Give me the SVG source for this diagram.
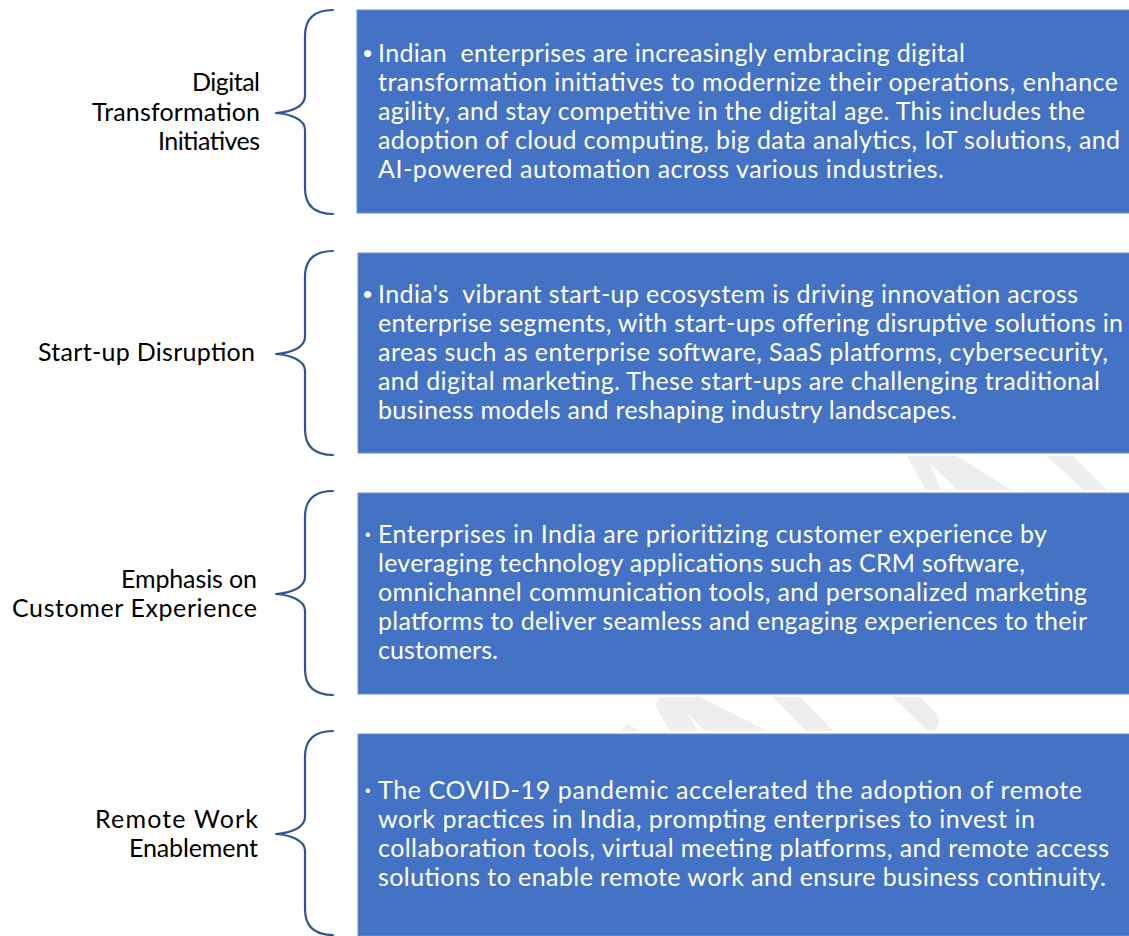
<svg xmlns="http://www.w3.org/2000/svg" xmlns:xlink="http://www.w3.org/1999/xlink" width="1129" height="936" viewBox="0 0 1129 936">
  <style>
    .box { fill: #4472C4; stroke: #6F8FD0; stroke-width: 1; }
    .body { font-family: Lato, "Open Sans", "Liberation Sans", sans-serif; font-size: 25px; fill: #FFFFFF; }
    .bul { font-family: "Liberation Sans", sans-serif; font-size: 26px; fill: #FFFFFF; }
    .bul-s { font-family: "Liberation Sans", sans-serif; font-size: 16px; fill: #FFFFFF; }
    .label { font-family: Lato, "Open Sans", "Liberation Sans", sans-serif; font-size: 25px; fill: #000000; text-anchor: end; }
    .brace { fill: none; stroke: #2F5597; stroke-width: 2.2; stroke-linecap: round; stroke-linejoin: round; }
    .mark { fill: #EEEEEE; }
  </style>
  <defs>
    <path id="brace" class="brace" d="M 57 0 C 38 0, 29 9, 29 26 L 29 86 C 29 97, 14 102, 0 103 C 14 104, 29 109, 29 120 L 29 178 C 29 195, 38 204, 57 204"/>
  </defs>

  <rect x="0" y="0" width="1129" height="936" fill="#FFFFFF"/>

  <!-- faint background logo, mostly hidden behind the boxes -->
  <g id="watermark">
    <polygon class="mark" points="907,456 957,456 1011,490 957,490 929,462 941,490 926,490"/>
    <polygon class="mark" points="1047,456 1073,456 1107,490 1083,490"/>
    <polygon class="mark" points="660,697 700,697 767,731 705,731 687,713 698,731 670,731 655,706"/>
    <polygon class="mark" points="620,731 628,724 640,731"/>
    <polygon class="mark" points="773,697 800,697 833,731 806,731"/>
    <path class="mark" d="M 893 697 L 920 697 L 938 716 Q 942 724 934 731 L 928 731 Z"/>
  </g>

  <!-- braces joining each label to its box -->
  <g id="connectors">
    <use xlink:href="#brace" x="276" y="10"/>
    <use xlink:href="#brace" x="276" y="251"/>
    <use xlink:href="#brace" x="276" y="491"/>
    <use xlink:href="#brace" x="276" y="731"/>
  </g>

  <g id="label-digital">
    <text class="label" x="260" y="91" textLength="68" lengthAdjust="spacing">Digital</text>
    <text class="label" x="260" y="121" textLength="168" lengthAdjust="spacing">Transformation</text>
    <text class="label" x="260" y="150" textLength="102" lengthAdjust="spacing">Initiatives</text>
  </g>
  <g id="label-startup">
    <text class="label" x="255" y="361" textLength="217" lengthAdjust="spacing">Start-up Disruption</text>
  </g>
  <g id="label-customer">
    <text class="label" x="257" y="588" textLength="136" lengthAdjust="spacing">Emphasis on</text>
    <text class="label" x="257" y="617" textLength="245" lengthAdjust="spacing">Customer Experience</text>
  </g>
  <g id="label-remote">
    <text class="label" x="258" y="828" textLength="163" lengthAdjust="spacing">Remote Work</text>
    <text class="label" x="258" y="857" textLength="129" lengthAdjust="spacing">Enablement</text>
  </g>

  <g id="box-digital">
    <rect class="box" x="357" y="10" width="773" height="203"/>
    <text class="bul" x="363" y="62">•</text>
    <text class="body" x="378" y="62" textLength="587" lengthAdjust="spacing" xml:space="preserve">Indian  enterprises are increasingly embracing digital</text>
    <text class="body" x="378" y="91" textLength="740" lengthAdjust="spacing">transformation initiatives to modernize their operations, enhance</text>
    <text class="body" x="378" y="120" textLength="707" lengthAdjust="spacing">agility, and stay competitive in the digital age. This includes the</text>
    <text class="body" x="378" y="149" textLength="742" lengthAdjust="spacing">adoption of cloud computing, big data analytics, IoT solutions, and</text>
    <text class="body" x="378" y="178" textLength="566" lengthAdjust="spacing">AI-powered automation across various industries.</text>
  </g>

  <g id="box-startup">
    <rect class="box" x="358" y="253" width="772" height="200"/>
    <text class="bul" x="363" y="303">•</text>
    <text class="body" x="378" y="303" textLength="700" lengthAdjust="spacing" xml:space="preserve">India's  vibrant start-up ecosystem is driving innovation across</text>
    <text class="body" x="378" y="332" textLength="745" lengthAdjust="spacing">enterprise segments, with start-ups offering disruptive solutions in</text>
    <text class="body" x="378" y="361" textLength="730" lengthAdjust="spacing">areas such as enterprise software, SaaS platforms, cybersecurity,</text>
    <text class="body" x="378" y="390" textLength="722" lengthAdjust="spacing">and digital marketing. These start-ups are challenging traditional</text>
    <text class="body" x="378" y="419" textLength="579" lengthAdjust="spacing">business models and reshaping industry landscapes.</text>
  </g>

  <g id="box-customer">
    <rect class="box" x="358" y="493" width="772" height="201"/>
    <text class="bul-s" x="365" y="540">•</text>
    <text class="body" x="378" y="543" textLength="669" lengthAdjust="spacing">Enterprises in India are prioritizing customer experience by</text>
    <text class="body" x="378" y="572" textLength="647" lengthAdjust="spacing">leveraging technology applications such as CRM software,</text>
    <text class="body" x="378" y="601" textLength="709" lengthAdjust="spacing">omnichannel communication tools, and personalized marketing</text>
    <text class="body" x="378" y="630" textLength="709" lengthAdjust="spacing">platforms to deliver seamless and engaging experiences to their</text>
    <text class="body" x="378" y="659" textLength="120" lengthAdjust="spacing">customers.</text>
  </g>

  <g id="box-remote">
    <rect class="box" x="358" y="734" width="772" height="202"/>
    <text class="bul-s" x="365" y="796">•</text>
    <text class="body" x="378" y="799" textLength="704" lengthAdjust="spacing">The COVID-19 pandemic accelerated the adoption of remote</text>
    <text class="body" x="378" y="828" textLength="657" lengthAdjust="spacing">work practices in India, prompting enterprises to invest in</text>
    <text class="body" x="378" y="857" textLength="731" lengthAdjust="spacing">collaboration tools, virtual meeting platforms, and remote access</text>
    <text class="body" x="378" y="886" textLength="728" lengthAdjust="spacing">solutions to enable remote work and ensure business continuity.</text>
  </g>
</svg>
